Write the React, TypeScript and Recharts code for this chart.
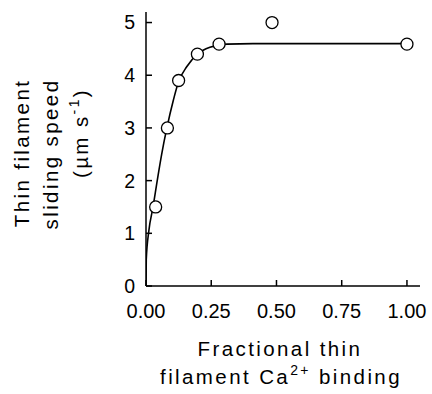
import React from 'react';
import { ComposedChart, Line, Scatter, XAxis, YAxis, Label } from 'recharts';

// fitted curve
const curveX = [0, 0.001, 0.011, 0.027, 0.043, 0.06, 0.08, 0.105, 0.125, 0.156, 0.197, 0.245, 0.31, 0.41, 1.0];
const curveY = [0, 0.5, 1.05, 1.5, 2.0, 2.5, 3.0, 3.53, 3.88, 4.16, 4.4, 4.53, 4.59, 4.6, 4.6];

// measured points
const pointX = [0.037, 0.082, 0.125, 0.197, 0.28, 0.483, 1.0];
const pointY = [1.5, 3.0, 3.9, 4.4, 4.59, 5.0, 4.59];

const xTicks = [0, 0.25, 0.5, 0.75, 1.0];
const yTicks = [0, 1, 2, 3, 4, 5];

const FONT = '"Liberation Sans", Arial, sans-serif';

const curve = curveX.map((x, i) => ({ x, y: curveY[i] }));
const points = pointX.map((x, i) => ({ x, y: pointY[i] }));

const OpenCircle = (props: any) => {
    const { cx, cy } = props;
    return <circle cx={cx} cy={cy} r={6} fill="#fff" stroke="#000" strokeWidth={1.3} />;
};

const XTitle = () => (
    <g fontFamily={FONT} fontSize={20.5} fill="#000" letterSpacing={2.4} textAnchor="middle">
        <text x={280} y={356}>Fractional thin</text>
        <text x={281} y={384}>
            filament Ca<tspan dy={-9} fontSize={14}>2+</tspan>
            <tspan dy={9}> binding</tspan>
        </text>
    </g>
);

const YTitle = () => (
    <g fontFamily={FONT} fontSize={20.5} fill="#000" letterSpacing={2.4} textAnchor="middle">
        <text transform="translate(29,153) rotate(-90)">Thin filament</text>
        <text transform="translate(58,154) rotate(-90)">sliding speed</text>
        <text transform="translate(88,133) rotate(-90)">
            (µm s<tspan dy={-9} fontSize={14}>-1</tspan>
            <tspan dy={9}>)</tspan>
        </text>
    </g>
);

const App: React.FC = () => {
    return (
        <div style={{ position: 'absolute', left: 0, top: 0, background: '#fff' }}>
            <ComposedChart width={432} height={394} margin={{ top: 12, right: 12, bottom: 0, left: 86 }}>
                <XAxis
                    dataKey="x"
                    type="number"
                    domain={[0, 1.05]}
                    ticks={xTicks}
                    tickFormatter={(v: number) => v.toFixed(2)}
                    allowDataOverflow
                    tickSize={-6}
                    tickMargin={24}
                    stroke="#000"
                    strokeWidth={1.5}
                    tick={{ fill: '#000', fontSize: 20, fontFamily: FONT }}
                    height={108}
                >
                    <Label content={<XTitle />} />
                </XAxis>
                <YAxis
                    dataKey="y"
                    type="number"
                    domain={[0, 5.2]}
                    ticks={yTicks}
                    allowDataOverflow
                    tickSize={-6}
                    tickMargin={17}
                    stroke="#000"
                    strokeWidth={1.5}
                    tick={{ fill: '#000', fontSize: 19.5, fontFamily: FONT }}
                    width={60}
                >
                    <Label content={<YTitle />} />
                </YAxis>
                <Line
                    data={curve}
                    dataKey="y"
                    type="monotone"
                    stroke="#000"
                    strokeWidth={1.6}
                    dot={false}
                    isAnimationActive={false}
                />
                <Scatter data={points} dataKey="y" shape={<OpenCircle />} isAnimationActive={false} />
            </ComposedChart>
        </div>
    );
};

export default App;
